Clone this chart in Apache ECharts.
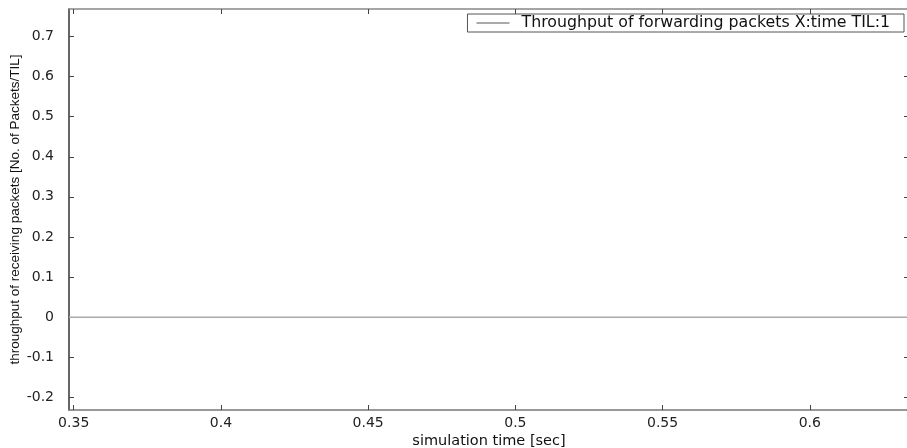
<!DOCTYPE html>
<html>
<head>
<meta charset="utf-8">
<script src="https://cdn.jsdelivr.net/npm/echarts@6/dist/echarts.min.js"></script>
</head>
<body style="margin:0;background:#fff;">
<div id="main" style="width: 907px;height:448px;"></div>
<script type="text/javascript">
    // data
    var timeValues = [0.3484, 0.35, 0.4, 0.45, 0.5, 0.55, 0.6, 0.6337];
    var throughputValues = [0, 0, 0, 0, 0, 0, 0, 0];
    var xTicks = [0.35, 0.4, 0.45, 0.5, 0.55, 0.6];
    var yTicks = [-0.2, -0.1, 0, 0.1, 0.2, 0.3, 0.4, 0.5, 0.6, 0.7];
    var seriesName = 'Throughput of forwarding packets X:time TIL:1';

    var points = timeValues.map(function (t, i) { return [t, throughputValues[i]]; });

    var myChart = echarts.init(document.getElementById('main'));

    var tickStyle = {show: true, inside: true, length: 5, lineStyle: {color: '#444', width: 1}};

    var option = {
        backgroundColor: '#fff',
        animation: false,
        grid: {left: 69, right: -2, top: 9, bottom: 38, outerBoundsMode: 'none', containLabel: false},
        legend: {
            right: 3,
            top: 14,
            padding: [1, 14, 1, 9],
            borderColor: '#555',
            borderWidth: 1,
            itemWidth: 33,
            itemHeight: 1,
            itemGap: 0,
            data: [{name: seriesName, icon: 'rect', itemStyle: {color: '#555'}}],
            textStyle: {fontFamily: 'DejaVu Sans', fontSize: 15.8, color: '#111', lineHeight: 16, padding: [0, 0, 0, 7]}
        },
        xAxis: [
            {
                type: 'value',
                min: 0.3484,
                max: 0.6337,
                position: 'bottom',
                name: 'simulation time [sec]',
                nameLocation: 'middle',
                nameGap: 24,
                nameMoveOverlap: false,
                nameTextStyle: {fontFamily: 'DejaVu Sans', fontSize: 14.5, color: '#111'},
                axisLine: {show: true, onZero: false, lineStyle: {color: '#777', width: 1.5}},
                axisTick: Object.assign({customValues: xTicks}, tickStyle),
                axisLabel: {customValues: xTicks, margin: 6, fontFamily: 'DejaVu Sans', fontSize: 14, color: '#222'},
                splitLine: {show: false}
            },
            {
                type: 'value',
                min: 0.3484,
                max: 0.6337,
                position: 'top',
                axisLine: {show: true, onZero: false, lineStyle: {color: '#888', width: 1.5}},
                axisTick: Object.assign({customValues: xTicks}, tickStyle),
                axisLabel: {show: false},
                splitLine: {show: false}
            }
        ],
        yAxis: [
            {
                type: 'value',
                min: -0.2316,
                max: 0.7685,
                position: 'left',
                name: 'throughput of receiving packets [No. of Packets/TIL]',
                nameLocation: 'middle',
                nameGap: 47,
                nameMoveOverlap: false,
                nameTextStyle: {fontFamily: 'Liberation Sans', fontSize: 13.5, color: '#111'},
                axisLine: {show: true, onZero: false, lineStyle: {color: '#333', width: 1.5}},
                axisTick: Object.assign({customValues: yTicks}, tickStyle),
                axisLabel: {customValues: yTicks, margin: 15, fontFamily: 'DejaVu Sans', fontSize: 14, color: '#222'},
                splitLine: {show: false}
            },
            {
                type: 'value',
                min: -0.2316,
                max: 0.7685,
                position: 'right',
                axisLine: {show: false, onZero: false},
                axisTick: Object.assign({customValues: yTicks}, tickStyle),
                axisLabel: {show: false},
                splitLine: {show: false}
            }
        ],
        series: [
            {
                name: seriesName,
                type: 'line',
                xAxisIndex: 0,
                yAxisIndex: 0,
                showSymbol: false,
                symbol: 'none',
                lineStyle: {color: '#aaa', width: 1.5},
                itemStyle: {color: '#aaa'},
                data: points
            }
        ]
    };
    myChart.setOption(option);
</script>
</body>
</html>
